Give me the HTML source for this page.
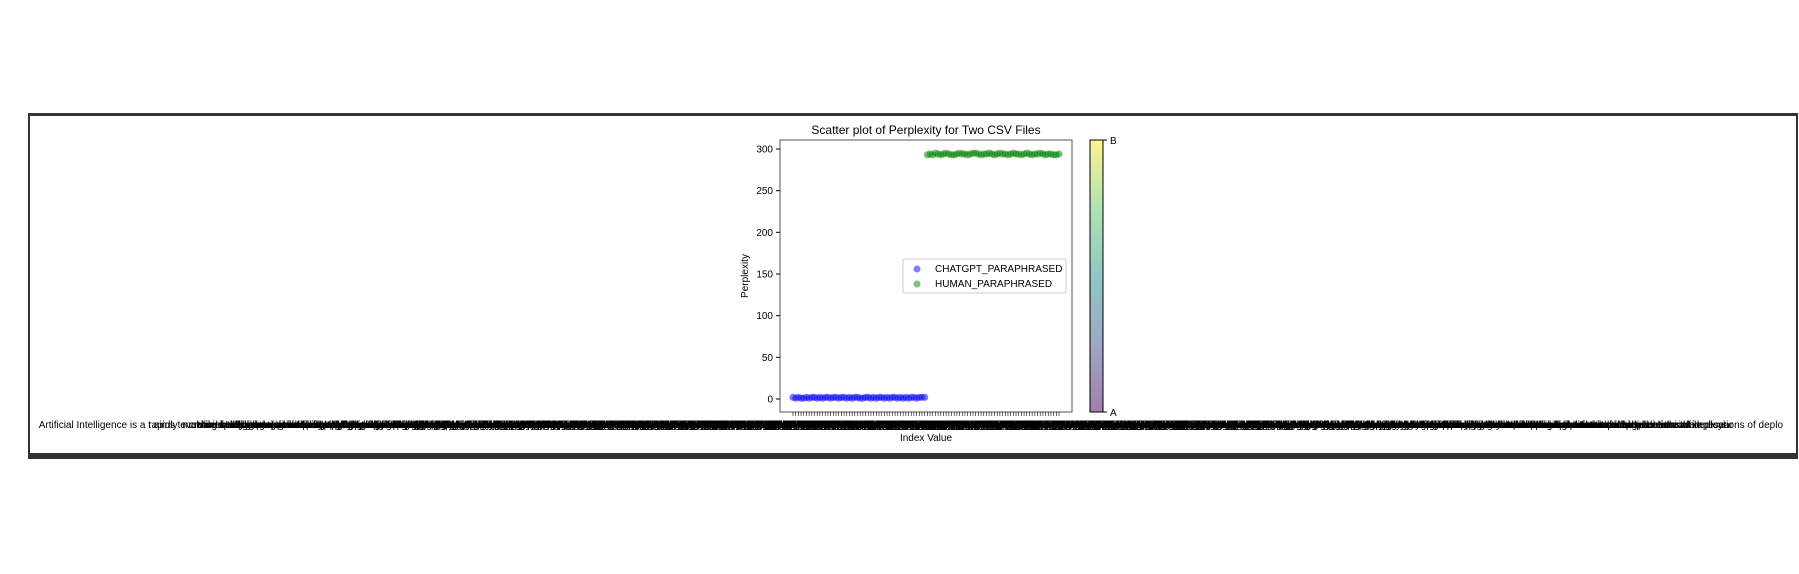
<!DOCTYPE html>
<html><head><meta charset="utf-8"><style>
html,body{margin:0;padding:0;background:#fff;width:1799px;height:574px;overflow:hidden}
#frame{position:absolute;left:28px;top:113px;width:1766px;height:337px;border-top:3px solid #333;border-left:2px solid #333;border-right:2px solid #333;border-bottom:6px solid #333;background:#fff}
svg{position:absolute;left:0;top:0}
text{font-family:"Liberation Sans","DejaVu Sans",sans-serif}
</style></head><body>
<div id="frame"></div>
<svg id="chart" width="1799" height="574"></svg>
<script>
const chatgptValues=[2,1,2,1,1,2,1,2,2,1,2,1,2,2,1,2,2,1,2,2,1,2,1,2,2,1,1,2,2,1,2,1,2,2,1,2,1,2,2,1,2,1,2,1,2,2,1,2,2,2];
const humanValues=[293,294,293,295,294,293,294,295,294,293,293,294,295,294,294,293,294,295,295,294,293,294,294,295,294,293,294,295,294,294,293,294,295,294,294,293,294,295,294,293,294,294,295,294,293,294,294,293,293,294];
const yTicks=[0,50,100,150,200,250,300];
const labelBase="Artificial Intelligence is a rapidly evolving field of computer science that aims to create intelligent machines capable of performing tasks that typically require human intelligence such as visual perception speech recognition decision making and language translation these systems learn from data and improve over time while researchers continue to debate the ethical implications of deploying such technologies in society undefined ";
const categories=[];
for(let i=0;i<100;i++){const len=(i===0?345:(i===99?328:40+((i*53)%100)*2.85))|0;const st=i===0?0:(i*37)%120;categories.push(labelBase.repeat(4).slice(st,st+len));}
const svg=document.getElementById('chart');const NS='http://www.w3.org/2000/svg';
function el(t,a,p){const e=document.createElementNS(NS,t);for(const k in a)e.setAttribute(k,a[k]);(p||svg).appendChild(e);return e;}
const AX={l:780,r:1072,t:140,b:412};
const y=v=>399-(v)*(250/300);
const n=chatgptValues.length+humanValues.length;
const x=i=>793+i*(1059-793)/(n-1);
const defs=el('defs',{});const g=el('linearGradient',{id:'vir',x1:0,y1:1,x2:0,y2:0},defs);
[['0','#440154'],['0.25','#3b528b'],['0.5','#21918c'],['0.75','#5ec962'],['1','#fde725']].forEach(s=>el('stop',{offset:s[0],'stop-color':s[1]},g));
const title=el('text',{x:926,y:134,'text-anchor':'middle','font-size':12,fill:'#000'});title.textContent='Scatter plot of Perplexity for Two CSV Files';


const box=el('rect',{x:AX.l,y:AX.t,width:AX.r-AX.l,height:AX.b-AX.t,fill:'#fff',stroke:'#555','stroke-width':1});


yTicks.forEach(v=>{el('line',{x1:AX.l-4,x2:AX.l,y1:y(v),y2:y(v),stroke:'#000'});const t=el('text',{x:AX.l-7,y:y(v)+3.5,'text-anchor':'end','font-size':10});t.textContent=v;

});
const yl=el('text',{transform:'translate(748,276) rotate(-90)','text-anchor':'middle','font-size':10});yl.textContent='Perplexity';


const lg=el('g',{});
categories.forEach((c,i)=>{el('line',{x1:x(i),x2:x(i),y1:AX.b,y2:AX.b+4,stroke:'#000','stroke-width':0.6});const t=el('text',{x:x(i),y:428,'text-anchor':'middle','font-size':10},lg);t.textContent=c;

});
const xl=el('text',{x:926,y:441,'text-anchor':'middle','font-size':10});xl.textContent='Index Value';


chatgptValues.forEach((v,i)=>{const c=el('circle',{cx:x(i),cy:y(v),r:3.6,fill:'rgba(0,0,255,0.5)'});

});
humanValues.forEach((v,i)=>{const c=el('circle',{cx:x(i+chatgptValues.length),cy:y(v),r:3.6,fill:'rgba(0,128,0,0.5)'});

});
const leg=el('g',{});


el('rect',{x:903,y:259,width:163,height:34,rx:2,fill:'rgba(255,255,255,0.8)',stroke:'#ccc'},leg);
el('circle',{cx:917,cy:269,r:3.5,fill:'rgba(0,0,255,0.5)'},leg);
el('circle',{cx:917,cy:284,r:3.5,fill:'rgba(0,128,0,0.5)'},leg);
let t1=el('text',{x:935,y:272,'font-size':10},leg);t1.textContent='CHATGPT_PARAPHRASED';


let t2=el('text',{x:935,y:287,'font-size':10},leg);t2.textContent='HUMAN_PARAPHRASED';


const cb=el('rect',{x:1090,y:140,width:13,height:272,fill:'url(#vir)','fill-opacity':0.5,stroke:'#000','stroke-width':1});


[['B',140],['A',412]].forEach(p=>{el('line',{x1:1103,x2:1107,y1:p[1],y2:p[1],stroke:'#000'});const t=el('text',{x:1110,y:p[1]+4,'font-size':10});t.textContent=p[0];

});
</script>
</body></html>
